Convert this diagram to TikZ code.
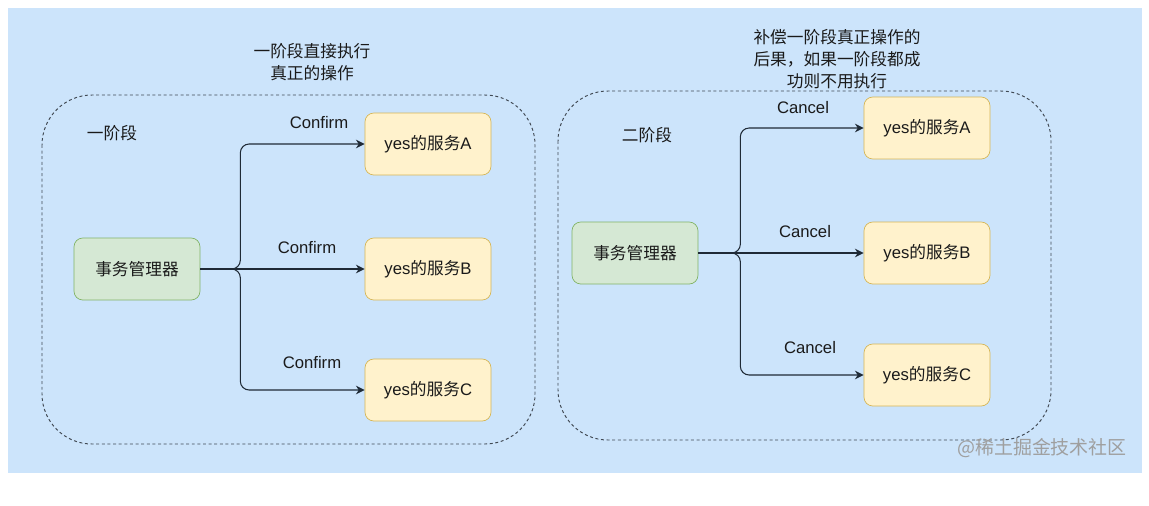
\documentclass[tikz,border=0pt]{standalone}
\usepackage{fontspec}
\setmainfont{Liberation Sans}
\newfontfamily\cjk{Noto Sans CJK SC}
\usetikzlibrary{arrows.meta}
\definecolor{bgblue}{HTML}{CCE4FB}
\definecolor{mgrfill}{HTML}{D5E8D4}
\definecolor{mgrline}{HTML}{82B366}
\definecolor{svcfill}{HTML}{FFF2CC}
\definecolor{svcline}{HTML}{D6B656}
\definecolor{inkc}{HTML}{1A1A1A}
\definecolor{linec}{HTML}{1F2A36}

\begin{document}
\begin{tikzpicture}[x=0.02cm, y=-0.02cm,
    every node/.style={text=inkc, font=\fontsize{9.5}{12.5}\selectfont},
    mgr/.style={draw=mgrline, fill=mgrfill, rounded corners=5pt,
        minimum width=2.52cm, minimum height=1.24cm},
    svc/.style={draw=svcline, fill=svcfill, rounded corners=5pt,
        minimum width=2.52cm, minimum height=1.24cm},
    phase/.style={draw=linec!85, line width=0.55pt, dash pattern=on 1.7pt off 1.5pt, rounded corners=1cm},
    conn/.style={draw=linec, line width=0.6pt, rounded corners=5pt, -{Stealth[length=5pt, width=5pt]}}]
    \def\bx{240}
    \def\by{740}

    % background
    \useasboundingbox (0,0) rectangle (1149,505);
    \fill[bgblue] (8,8) rectangle (1142,473);

    % phase one
    \draw[phase] (42,95) rectangle (535,444);
    \node (t1) at (312,62) [align=center] {\cjk 一阶段直接执行\\\cjk 真正的操作};
    \node (p1) at (112,133) {\cjk 一阶段};
    \node[mgr] (m1) at (137,269) {\cjk 事务管理器};
    \node[svc] (a1) at (428,144) {yes{\cjk 的服务}A};
    \node[svc] (b1) at (428,269) {yes{\cjk 的服务}B};
    \node[svc] (c1) at (428,390) {yes{\cjk 的服务}C};
    \draw[conn] (m1.east) -- ++(\bx-200,0) |- (a1.west);
    \draw[conn] (m1.east) -- (b1.west);
    \draw[conn] (m1.east) -- ++(\bx-200,0) |- (c1.west);
    \node (la1) at (319,123) {Confirm};
    \node (lb1) at (307,248) {Confirm};
    \node (lc1) at (312,363) {Confirm};

    % phase two
    \draw[phase] (558,91) rectangle (1051,440);
    \node (t2) at (837,59) [align=center] {\cjk 补偿一阶段真正操作的\\\cjk 后果，如果一阶段都成\\\cjk 功则不用执行};
    \node (p2) at (647,135) {\cjk 二阶段};
    \node[mgr] (m2) at (635,253) {\cjk 事务管理器};
    \node[svc] (a2) at (927,128) {yes{\cjk 的服务}A};
    \node[svc] (b2) at (927,253) {yes{\cjk 的服务}B};
    \node[svc] (c2) at (927,375) {yes{\cjk 的服务}C};
    \draw[conn] (m2.east) -- ++(\by-698,0) |- (a2.west);
    \draw[conn] (m2.east) -- (b2.west);
    \draw[conn] (m2.east) -- ++(\by-698,0) |- (c2.west);
    \node (la2) at (803,108) {Cancel};
    \node (lb2) at (805,232) {Cancel};
    \node (lc2) at (810,348) {Cancel};

    % watermark
    \node[text=gray!75, font=\cjk\fontsize{10.8}{12}\selectfont] (wm) at (1042,448) {@稀土掘金技术社区};
\end{tikzpicture}
\end{document}
